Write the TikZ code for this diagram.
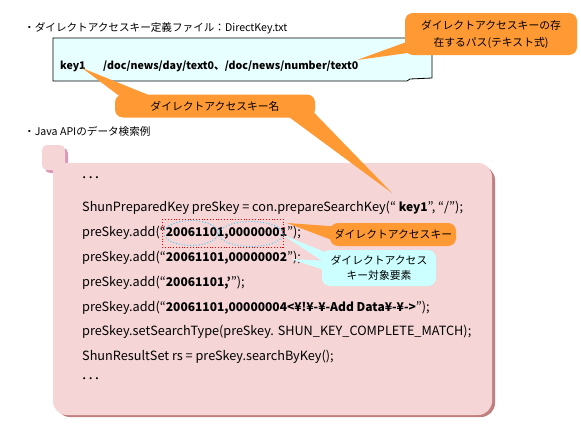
\documentclass[tikz,border=0pt]{standalone}
\usepackage{fontspec}
\setmainfont{Noto Sans CJK JP}
\usetikzlibrary{calc}
\definecolor{orng}{HTML}{FF9933}
\definecolor{boxcyan}{HTML}{E8FFFF}
\definecolor{calcyan}{HTML}{CCFFFF}
\definecolor{pinkc}{HTML}{F5D5D5}
\definecolor{pinkshadow}{HTML}{C08080}
\definecolor{tabshadow}{HTML}{D898B8}
\definecolor{ellc}{HTML}{33CCFF}
\newcommand\kbold[1]{{\fontsize{12}{14}\selectfont\bfseries #1}}
\tikzset{
  title/.style={anchor=west,inner sep=0pt,font=\fontsize{10.6}{12}\selectfont},
  code/.style={anchor=west,inner sep=0pt,font=\fontsize{12.7}{14}\selectfont},
  filetext/.style={anchor=west,inner sep=0pt,font=\fontsize{10.6}{14}\selectfont\bfseries},
  ocall/.style={fill=orng,rounded corners=8pt,inner sep=0pt,align=center,font=\fontsize{10.8}{17}\selectfont},
  ccall/.style={fill=calcyan,rounded corners=8pt,inner sep=0pt,align=center,font=\fontsize{10.8}{15}\selectfont},
}
\begin{document}
\begin{tikzpicture}[x=1pt,y=-1pt]
\useasboundingbox (0,0) rectangle (581,431);
% ---- top title and definition file box
\node[title] (t1) at (24,28) {・ダイレクトアクセスキー定義ファイル：DirectKey.txt};
\draw[fill=boxcyan,line width=0.8pt] (53,38) -- (432,38) -- (432,78) -- (410,79) -- (407,81) -- (53,81) -- cycle;
\node[filetext] (k1) at (60,66) {key1};
\node[filetext] (paths) at (103,66) {/doc/news/day/text0、/doc/news/number/text0};
% ---- second title
\node[title] (t2) at (24,131) {・Java APIのデータ検索例};
% ---- pink code box
\fill[tabshadow,rounded corners=5pt] (45,148) rectangle (68,173);
\fill[pinkshadow,rounded corners=14pt] (56,166) rectangle (495,417);
\fill[pinkc,rounded corners=14pt] (53,163) -- (492,163) -- (492,415) -- (53,415) -- (53,163) -- cycle;
\fill[pinkc] (53,163) rectangle (70,180);
\fill[pinkc,rounded corners=5pt] (42,145) rectangle (65,170);
% code lines
\node[code] (c0) at (81,180) {･･･};
\node[code] (c1) at (82,208) {ShunPreparedKey preSkey = con.prepareSearchKey(“ \kbold{key1}”, “/”);};
\node[code] (c2) at (82,233) {preSkey.add(“\kbold{20061101,00000001}”);};
\node[code] (c3) at (82,258) {preSkey.add(“\kbold{20061101,00000002}”);};
\node[code] (c4) at (82,283) {preSkey.add(“\kbold{20061101,’}”);};
\node[code] (c5) at (82,308) {preSkey.add(“\kbold{20061101,00000004<¥!¥-¥-Add Data¥-¥->}”);};
\node[code] (c6) at (82,332) {preSkey.setSearchType(preSkey. SHUN\_KEY\_COMPLETE\_MATCH);};
\node[code] (c7) at (82,357) {ShunResultSet rs = preSkey.searchByKey();};
\node[code] (c8) at (81,381) {･･･};
% markers around key value
\draw[red,dotted,line width=0.8pt] (162,219) rectangle (283,247);
\draw[ellc,dotted,line width=0.9pt] (191,233) ellipse [x radius=27,y radius=12.5];
\draw[ellc,dotted,line width=0.9pt] (251,234) ellipse [x radius=32,y radius=12.5];
% ---- callouts
\coordinate (tipPath) at (357,60);
\coordinate (tipKey1) at (82,68);
\coordinate (tipKeyCode) at (392,193);
\coordinate (tipKeyVal) at (287,223);
\coordinate (tipElemA) at (283,235);
\coordinate (tipElemB) at (291,259);
\node[ocall,minimum width=172pt,minimum height=42pt] (cPath) at (491,34) {ダイレクトアクセスキーの存\\在するパス(テキスト式)};
\node[ocall,minimum width=200pt,minimum height=23pt] (cName) at (215,106) {ダイレクトアクセスキー名};
\node[ocall,minimum width=126pt,minimum height=23pt] (cKey) at (393,234.5) {ダイレクトアクセスキー};
\node[ccall,minimum width=114pt,minimum height=36pt] (cElem) at (379,268) {ダイレクトアクセス\\キー対象要素};
\fill[orng] (tipPath) -- ($(cPath.west)+(10,5)$) -- ($(cPath.west)+(10,18)$) -- cycle;
\fill[orng] (tipKey1) -- ($(cName.north west)+(5,2)$) -- ($(cName.north west)+(37,2)$) -- cycle;
\fill[orng] (tipKeyCode) -- ($(cName.south east)+(-28,-2)$) -- ($(cName.south east)+(-6,-10)$) -- cycle;
\fill[orng] (tipKeyVal) -- ($(cKey.west)+(6,-8)$) -- ($(cKey.west)+(6,7)$) -- cycle;
\fill[calcyan] (tipElemA) -- ($(cElem.west)+(8,-14)$) -- ($(cElem.west)+(8,-2)$) -- cycle;
\fill[calcyan] (tipElemB) -- ($(cElem.west)+(8,-7)$) -- ($(cElem.west)+(8,4)$) -- cycle;
\end{tikzpicture}
\end{document}
